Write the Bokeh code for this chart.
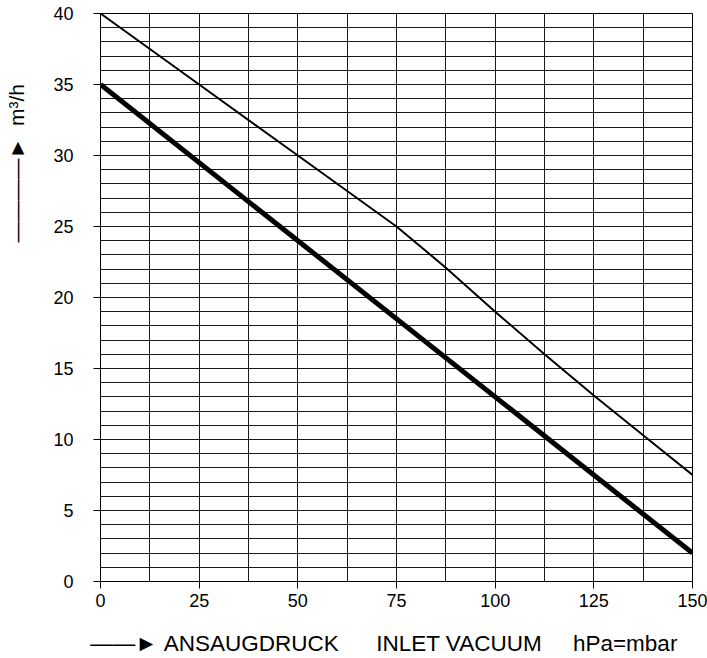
from bokeh.plotting import figure
from bokeh.models import Range1d, FixedTicker
from bokeh.embed import file_html
from bokeh.resources import INLINE

# data
x_vals = [0, 25, 50, 62.5, 75, 87.5, 100, 112.5, 125, 137.5, 150]
upper_curve = [40, 35, 30, 27.5, 25, 22.1, 19, 16, 13.1, 10.3, 7.5]
lower_x = [0, 150]
lower_curve = [35, 2]
x_ticks = [0, 25, 50, 75, 100, 125, 150]
y_ticks = [0, 5, 10, 15, 20, 25, 30, 35, 40]
x_grid = [i * 12.5 for i in range(13)]
y_grid = list(range(0, 41))
y_label = "m³/h"
x_label_parts = ["ANSAUGDRUCK", "INLET VACUUM", "hPa=mbar"]

FONT = "Liberation Sans"
NB = "\u00a0"
ARROW_X = "\u2014\u2014\u25ba"
ARROW_Y = "\u2014\u2014\u2014\u2014\u25ba"

p = figure(width=707, height=658, output_backend="svg", toolbar_location=None,
           x_range=Range1d(0, 150), y_range=Range1d(0, 40),
           min_border_left=100, min_border_right=15, min_border_top=13, min_border_bottom=77)

p.background_fill_color = "white"
p.border_fill_color = "white"
p.outline_line_color = "black"
p.outline_line_width = 1

p.xaxis.ticker = FixedTicker(ticks=x_ticks)
p.yaxis.ticker = FixedTicker(ticks=y_ticks)
p.xgrid.ticker = FixedTicker(ticks=x_grid)
p.ygrid.ticker = FixedTicker(ticks=y_grid)
for g in (p.xgrid, p.ygrid):
    g.grid_line_color = "#1a1a1a"
    g.grid_line_width = 1
    g.grid_line_alpha = 1.0

for ax in (p.xaxis, p.yaxis):
    ax.major_tick_in = 0
    ax.major_tick_out = 7
    ax.minor_tick_line_color = None
    ax.major_tick_line_color = "black"
    ax.axis_line_color = "black"
    ax.major_label_text_font = FONT
    ax.major_label_text_font_size = "18px"
    ax.major_label_text_color = "black"
    ax.axis_label_text_font = FONT
    ax.axis_label_text_font_style = "normal"
    ax.axis_label_text_color = "black"
p.yaxis.major_label_standoff = 20
p.xaxis.major_label_standoff = 5

# x axis title: arrow + text, shifted left with a few trailing non-breaking spaces
p.xaxis.axis_label = (ARROW_X + NB + x_label_parts[0] + NB * 6 + x_label_parts[1]
                      + NB * 5 + x_label_parts[2] + NB * 4)
p.xaxis.axis_label_text_font_size = "22.5px"
p.xaxis.axis_label_standoff = 21

# y axis title: arrow + text, pushed up with leading non-breaking spaces
p.yaxis.axis_label = NB * 46 + ARROW_Y + NB * 2 + y_label
p.yaxis.axis_label_text_font_size = "21px"
p.yaxis.axis_label_standoff = 22

p.line(x_vals, upper_curve, line_color="black", line_width=2)
p.line(lower_x, lower_curve, line_color="black", line_width=5)

open("out.html", "w").write(file_html(p, INLINE))
